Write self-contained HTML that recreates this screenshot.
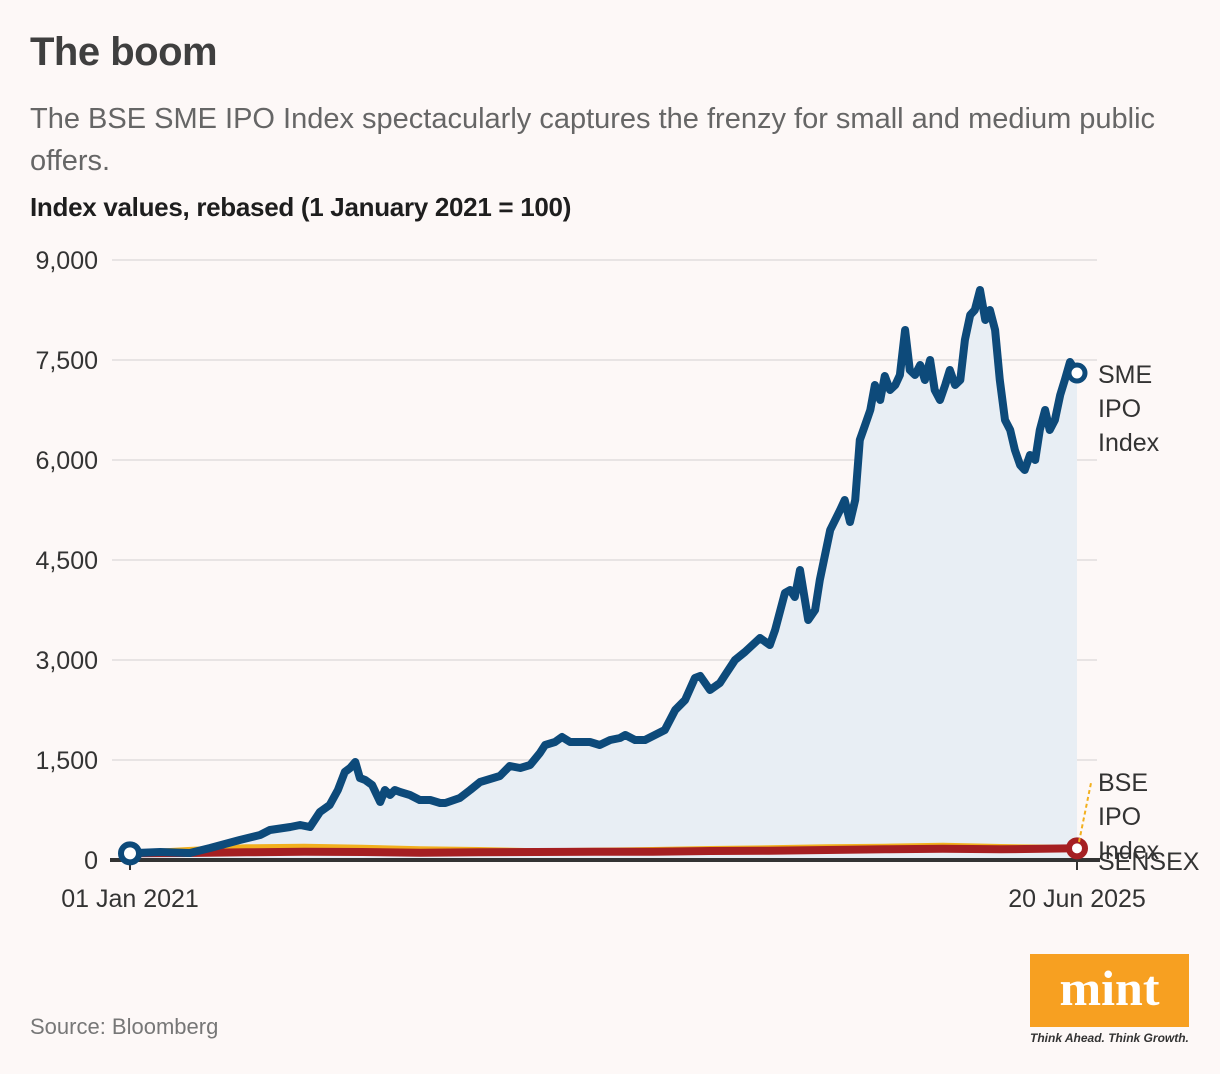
<!DOCTYPE html>
<html><head><meta charset="utf-8"><style>
body{margin:0;background:#fdf8f7;font-family:"Liberation Sans",sans-serif;}
#wrap{position:relative;width:1220px;height:1074px;overflow:hidden;background:#fdf8f7;}
.t{position:absolute;white-space:nowrap;}
</style></head><body>
<div id="wrap">
<div class="t" style="left:30px;top:30px;font-size:40px;font-weight:bold;color:#3f3f3f;letter-spacing:-0.5px">The boom</div>
<div class="t" style="left:30px;top:98px;font-size:29px;color:#666;line-height:42px;white-space:normal;width:1180px">The BSE SME IPO Index spectacularly captures the frenzy for small and medium public offers.</div>
<div class="t" style="left:30px;top:192px;font-size:26px;font-weight:bold;color:#1e1e1e;letter-spacing:-0.3px">Index values, rebased (1 January 2021 = 100)</div>
<svg id="chart" width="1220" height="1074" style="position:absolute;left:0;top:0"></svg>
<div class="t" style="left:30px;top:1014px;font-size:22px;color:#777">Source: Bloomberg</div>
<div style="position:absolute;left:1030px;top:954px;width:159px;height:73px;background:#f7a021;color:#fff;font-family:'Liberation Serif',serif;font-weight:bold;font-size:50px;text-align:center;line-height:68px">mint</div>
<div class="t" style="left:1030px;top:1031px;font-size:12px;font-weight:bold;font-style:italic;color:#333">Think Ahead. Think Growth.</div>
</div>
<script>
const smeDays=[0,52,103,138,189,224,241,276,293,310,327,344,358,370,379,388,396,405,417,431,439,448,456,465,482,499,517,534,543,568,586,603,620,637,654,672,689,706,715,732,744,758,775,792,809,827,844,853,870,887,904,921,939,956,973,982,999,1016,1025,1042,1059,1085,1102,1111,1128,1137,1145,1154,1168,1180,1188,1206,1223,1231,1240,1249,1257,1266,1275,1283,1292,1300,1309,1318,1326,1335,1343,1352,1361,1369,1378,1386,1395,1404,1412,1421,1430,1438,1447,1455,1464,1473,1481,1490,1498,1507,1516,1524,1533,1541,1550,1559,1567,1576,1584,1593,1602,1610,1619,1631];
const smeValues=[100,120,105,180,300,375,450,495,525,495,720,825,1050,1320,1380,1470,1230,1200,1125,870,1050,975,1050,1020,975,900,900,855,855,930,1050,1170,1215,1260,1410,1380,1425,1605,1725,1770,1845,1770,1770,1770,1725,1800,1830,1875,1800,1800,1875,1950,2250,2400,2730,2760,2550,2655,2775,3000,3120,3330,3225,3450,4005,4050,3945,4350,3600,3750,4200,4950,5250,5400,5070,5400,6300,6525,6750,7125,6900,7260,7050,7125,7275,7950,7350,7275,7425,7200,7500,7050,6900,7125,7350,7125,7200,7800,8175,8250,8550,8100,8250,7950,7200,6600,6450,6150,5925,5850,6075,6000,6450,6750,6450,6600,6975,7200,7470,7305];
const otherDays=[0,100,200,300,400,500,600,700,800,900,1000,1100,1200,1300,1400,1500,1631];
const ipoValues=[100,150,190,200,185,160,150,130,140,150,165,175,190,200,215,195,180];
const sensexValues=[100,105,115,125,120,110,115,120,125,125,135,140,150,160,170,160,175];
const yTicks=[0,1500,3000,4500,6000,7500,9000];
const yTickLabels=["0","1,500","3,000","4,500","6,000","7,500","9,000"];
const xTickDays=[0,1631];
const xTickLabels=["01 Jan 2021","20 Jun 2025"];

const NS="http://www.w3.org/2000/svg";
const svg=document.getElementById('chart');
const X=d=>130+d/1631*947;
const Y=v=>860-v/9000*600;
function mk(tag,attrs,parent){const e=document.createElementNS(NS,tag);for(const k in attrs)e.setAttribute(k,attrs[k]);(parent||svg).appendChild(e);return e;}
yTicks.forEach((v,i)=>{
  if(v>0){const g=mk('line',{x1:112,x2:1097,y1:Y(v),y2:Y(v),stroke:'#e2dede','stroke-width':1.5});
  
  }
  const t=mk('text',{x:98,y:Y(v)+9,'text-anchor':'end','font-size':25,fill:'#333','font-family':'Liberation Sans, sans-serif'});
  t.textContent=yTickLabels[i];
  
  
});
function pts(days,vals){return days.map((d,i)=>X(d).toFixed(1)+','+Y(vals[i]).toFixed(1)).join(' ');}
const area=mk('polygon',{points:pts(smeDays,smeValues)+' '+X(1631)+','+Y(0)+' '+X(0)+','+Y(0),fill:'#e8eef4'});


const ax=mk('line',{x1:110,x2:1100,y1:860,y2:860,stroke:'#333','stroke-width':4});


xTickDays.forEach((d,i)=>{
  const tk=mk('line',{x1:X(d),x2:X(d),y1:860,y2:870,stroke:'#333','stroke-width':2});
  
  
  const t=mk('text',{x:X(d),y:907,'text-anchor':'middle','font-size':25,fill:'#333','font-family':'Liberation Sans, sans-serif'});
  t.textContent=xTickLabels[i];
  
  
});
const ipo=mk('polyline',{points:pts(otherDays,ipoValues),fill:'none',stroke:'#f2b01e','stroke-width':6,'stroke-linejoin':'round'});


const sx=mk('polyline',{points:pts(otherDays,sensexValues),fill:'none',stroke:'#a51f22','stroke-width':8,'stroke-linejoin':'round'});


const sme=mk('polyline',{points:pts(smeDays,smeValues),fill:'none',stroke:'#0d4a7a','stroke-width':8,'stroke-linejoin':'round','stroke-linecap':'round'});


const c0=mk('circle',{cx:X(0),cy:Y(smeValues[0]),r:9,fill:'#fff',stroke:'#0d4a7a','stroke-width':6});


const c1=mk('circle',{cx:X(1631),cy:Y(smeValues[smeValues.length-1]),r:8,fill:'#fff',stroke:'#0d4a7a','stroke-width':5});


const c2=mk('circle',{cx:X(1631),cy:Y(sensexValues[sensexValues.length-1]),r:8,fill:'#fff',stroke:'#a51f22','stroke-width':6});


const ld=mk('line',{x1:X(1631)+2,y1:Y(ipoValues[ipoValues.length-1])-6,x2:1091,y2:783,stroke:'#f2b01e','stroke-width':2,'stroke-dasharray':'4,3'});


function lbl(lines,y0,name){lines.forEach((s,i)=>{const t=mk('text',{x:1098,y:y0+i*34,'font-size':25,fill:'#333','font-family':'Liberation Sans, sans-serif'});t.textContent=s;

});}
lbl(['SME','IPO','Index'],383,'sme-series-label');
lbl(['BSE','IPO','Index'],791,'bse-ipo-series-label');
lbl(['SENSEX'],870,'sensex-series-label');
</script>
</body></html>
